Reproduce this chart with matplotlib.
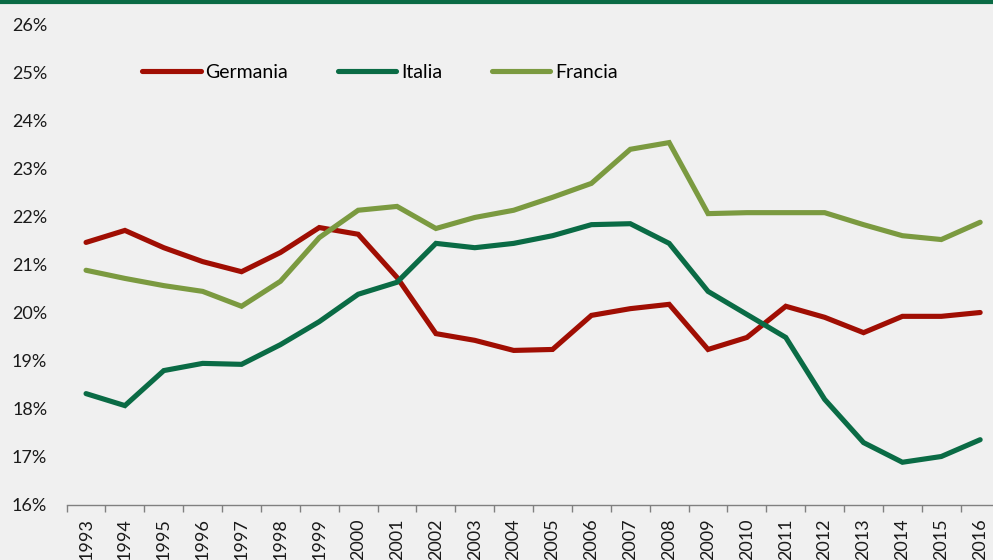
import matplotlib
matplotlib.use("Agg")
import matplotlib.pyplot as plt
import numpy as np
from matplotlib.ticker import FixedLocator, FuncFormatter

# values (percent)
YEARS = [str(y) for y in range(1993, 2017)]
GERMANIA = [21.46, 21.71, 21.35, 21.06, 20.85, 21.25, 21.77, 21.63, 20.73, 19.56,
            19.42, 19.21, 19.23, 19.94, 20.08, 20.17, 19.23, 19.48, 20.13, 19.90,
            19.58, 19.92, 19.92, 20.00]
ITALIA = [18.31, 18.06, 18.79, 18.94, 18.92, 19.33, 19.81, 20.38, 20.63, 21.44,
          21.35, 21.44, 21.60, 21.83, 21.85, 21.44, 20.44, 19.96, 19.48, 18.19,
          17.29, 16.88, 17.00, 17.35]
FRANCIA = [20.88, 20.71, 20.56, 20.44, 20.13, 20.65, 21.56, 22.13, 22.21, 21.75,
           21.98, 22.13, 22.40, 22.69, 23.40, 23.54, 22.06, 22.08, 22.08, 22.08,
           21.83, 21.60, 21.52, 21.88]

SERIES = [("Germania", GERMANIA, "#A00E03"),
          ("Italia", ITALIA, "#0A6B45"),
          ("Francia", FRANCIA, "#7B9A40")]

BG = "#F0F0F0"
plt.rcParams['font.family'] = ['Lato', 'DejaVu Sans']

fig = plt.figure(figsize=(9.93, 5.6), dpi=100, facecolor=BG)
ax = fig.add_axes([66.6 / 993, 55.5 / 560, 933 / 993, 480 / 560])
ax.set_facecolor(BG)

x = np.arange(len(YEARS))
for name, vals, col in SERIES:
    ax.plot(x, vals, color=col, lw=3.7, solid_capstyle='round',
            solid_joinstyle='miter', label=name)

ax.set_xlim(-0.5, len(YEARS) - 0.5)
ax.set_ylim(16, 26)
ax.set_yticks(range(16, 27))
ax.yaxis.set_major_formatter(FuncFormatter(lambda v, p: "%d%%" % v))

ax.set_xticks(x)
ax.set_xticklabels(YEARS, rotation=90, va='top', ha='center')
ax.xaxis.set_minor_locator(FixedLocator(np.arange(-0.5, len(YEARS), 1.0)))

for s in ['top', 'right', 'left']:
    ax.spines[s].set_visible(False)
ax.spines['bottom'].set_color('#808080')
ax.spines['bottom'].set_linewidth(1.0)

ax.tick_params(axis='y', length=0, pad=14, labelsize=13, labelcolor='#1a1a1a')
ax.tick_params(axis='x', which='major', length=0, pad=10, labelsize=13,
               labelcolor='#1a1a1a')
ax.tick_params(axis='x', which='minor', length=5, width=1.0, color='#808080')

ax.legend(loc='center left', bbox_to_anchor=(0.081, 0.9), ncol=3, frameon=False,
          borderpad=0, borderaxespad=0, handlelength=3.0, handletextpad=0.25,
          columnspacing=2.55, fontsize=14)

# green band along the top edge
fig.add_artist(plt.Line2D([0, 1], [1 - 1.5 / 560, 1 - 1.5 / 560],
                          transform=fig.transFigure, color="#0A6B45", lw=3))

fig.savefig("out.png", dpi=100, facecolor=BG)
